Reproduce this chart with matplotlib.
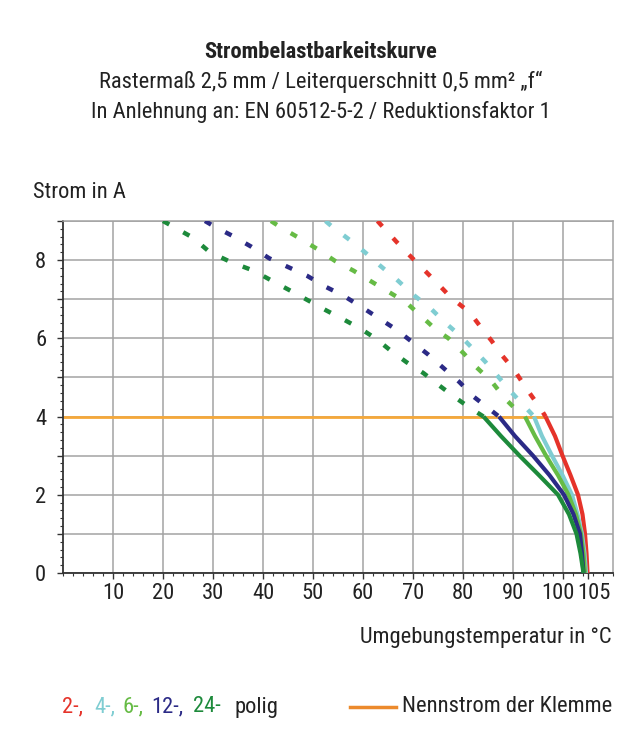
import matplotlib
matplotlib.use("Agg")
import matplotlib.pyplot as plt
import matplotlib.ticker as ticker
import matplotlib.transforms as mtransforms
from matplotlib import font_manager
import numpy as np

# Kurvendaten (Temperatur in °C, Strom in A)
red_t = [62.9, 64.1, 66.9, 69.4, 71.9, 74.4, 77.7, 81.3, 83.6, 85.7, 87.7, 90.2, 92.7, 95.4,
         96.5, 98.4, 99.9, 101.5, 103.0, 103.9, 104.4, 104.7, 104.9]
red_i = [9.0, 8.83, 8.44, 8.11, 7.79, 7.47, 7.03, 6.67, 6.28, 5.94, 5.58, 5.20, 4.71, 4.23,
         4.0, 3.5, 3.0, 2.5, 2.0, 1.5, 1.0, 0.5, 0.0]

cyan_t = [52.5, 53.7, 57.4, 60.4, 63.4, 66.6, 70.1, 73.4, 76.7, 79.4, 81.7, 84.4, 87.1, 89.7, 92.1,
          94.2, 95.8, 97.8, 99.9, 101.8, 102.9, 103.8, 104.3, 104.6]
cyan_i = [9.0, 8.87, 8.51, 8.20, 7.86, 7.52, 7.11, 6.78, 6.37, 6.07, 5.77, 5.41, 5.01, 4.62, 4.29,
          4.0, 3.5, 3.0, 2.5, 2.0, 1.5, 1.0, 0.5, 0.0]

lgreen_t = [41.6, 43.4, 47.3, 50.9, 54.4, 58.1, 61.7, 65.1, 68.6, 71.7, 74.7, 77.1, 80.1, 82.7, 85.7,
            88.4, 90.6, 92.4, 94.4, 96.6, 99.0, 101.1, 102.6, 103.6, 104.1, 104.4]
lgreen_i = [9.0, 8.85, 8.56, 8.28, 7.98, 7.73, 7.45, 7.19, 6.92, 6.56, 6.21, 6.00, 5.62, 5.26, 4.90,
            4.46, 4.18, 4.0, 3.5, 3.0, 2.5, 2.0, 1.5, 1.0, 0.5, 0.0]

blue_t = [28.4, 30.4, 33.9, 37.7, 41.2, 44.9, 48.8, 52.5, 56.1, 59.6, 63.1, 66.7, 70.1, 73.1, 76.1,
          79.3, 82.2, 84.9, 87.2, 90.4, 94.0, 97.3, 100.2, 102.1, 103.4, 103.8, 104.1]
blue_i = [9.0, 8.85, 8.62, 8.34, 8.05, 7.83, 7.60, 7.32, 7.09, 6.81, 6.52, 6.22, 5.88, 5.58, 5.24,
          4.88, 4.50, 4.23, 4.0, 3.5, 3.0, 2.5, 2.0, 1.5, 1.0, 0.5, 0.0]

dgreen_t = [20.0, 21.7, 25.9, 29.3, 33.4, 38.1, 42.4, 45.9, 49.3, 52.7, 56.3, 59.6, 62.6, 65.5,
            68.7, 72.1, 75.3, 78.2, 81.3, 84.1, 87.6, 91.3, 95.2, 99.0, 101.2, 102.7, 103.5, 104.1]
dgreen_i = [9.0, 8.88, 8.58, 8.21, 7.96, 7.73, 7.43, 7.19, 6.95, 6.71, 6.47, 6.24, 5.99, 5.69,
            5.39, 5.11, 4.79, 4.51, 4.23, 4.0, 3.5, 3.0, 2.5, 2.0, 1.5, 1.0, 0.5, 0.0]

nenn_t = [0, 96.5]
nenn_i = [4.0, 4.0]

x_ticks = [10, 20, 30, 40, 50, 60, 70, 80, 90, 100, 105]
y_ticks = [0, 1, 2, 3, 4, 5, 6, 7, 8, 9]

series = [
    (red_t, red_i, "#e5332a", "2-,"),
    (cyan_t, cyan_i, "#7fcdd2", "4-,"),
    (lgreen_t, lgreen_i, "#66bb45", "6-,"),
    (blue_t, blue_i, "#2b2a86", "12-,"),
    (dgreen_t, dgreen_i, "#1d8a3b", "24-"),
]
legend_x = [62, 94, 122, 151, 193]

names = {f.name for f in font_manager.fontManager.ttflist}
font = "DejaVu Sans"
for cand in ["Roboto Condensed", "Barlow Semi Condensed", "Asap Condensed", "Barlow Condensed"]:
    if cand in names:
        font = cand
        break
plt.rcParams["font.family"] = [font, "DejaVu Sans"]
fs = 16.2
plt.rcParams["font.size"] = fs
textcol = "#222222"
gridcol = "#a3a3a3"

fig = plt.figure(figsize=(6.42, 7.54), dpi=100)
ax = fig.add_axes([63 / 642, 1 - 573 / 754, 550 / 642, 352 / 754])

ax.plot(nenn_t, nenn_i, color="#f5a83a", lw=2.0, zorder=2, solid_capstyle="butt")

for t, i, col, lab in series:
    t = np.array(t)
    i = np.array(i)
    up = i >= 4.0
    lo = i <= 4.0
    ax.plot(t[up], i[up], color=col, lw=3.2, linestyle=(0, (1.6, 3.6)), zorder=3)
    ax.plot(t[lo], i[lo], color=col, lw=3.0, zorder=4, solid_capstyle="butt",
            solid_joinstyle="round", clip_on=False)

ax.set_xlim(0, 110)
ax.set_ylim(0, 9)

# Gitter
ax.xaxis.set_major_locator(ticker.FixedLocator(x_ticks))
ax.xaxis.set_minor_locator(ticker.MultipleLocator(2))
ax.yaxis.set_major_locator(ticker.FixedLocator(y_ticks))
ax.yaxis.set_minor_locator(ticker.MultipleLocator(0.2))
ax.yaxis.set_major_formatter(ticker.FuncFormatter(lambda v, pos: "%d" % v if int(v) % 2 == 0 else ""))
ax.grid(True, which="major", color=gridcol, lw=1.1, zorder=0)
ax.set_axisbelow(True)
for gl, v in zip(ax.get_xgridlines(), x_ticks):
    if v == 105:
        gl.set_visible(False)

ax.tick_params(axis="both", which="major", length=4, width=1.0, color="#333333",
               labelsize=fs, labelcolor=textcol)
ax.tick_params(axis="both", which="minor", length=2.5, width=0.8, color="#333333")
ax.tick_params(axis="x", pad=3)
ax.tick_params(axis="y", pad=8)

# 100 und 105 etwas auseinanderruecken
for lbl, v in zip(ax.get_xticklabels(), x_ticks):
    if v == 100:
        lbl.set_transform(lbl.get_transform() + mtransforms.ScaledTranslation(-5 / 100, 0, fig.dpi_scale_trans))
    if v == 105:
        lbl.set_transform(lbl.get_transform() + mtransforms.ScaledTranslation(6 / 100, 0, fig.dpi_scale_trans))

for s in ["top", "right"]:
    ax.spines[s].set_color(gridcol)
    ax.spines[s].set_linewidth(1.1)
for s in ["left", "bottom"]:
    ax.spines[s].set_color("#333333")
    ax.spines[s].set_linewidth(1.3)

# Titel
fig.text(0.5, 1 - 52 / 754, "Strombelastbarkeitskurve", ha="center", va="center",
         fontsize=fs, fontweight="bold", color=textcol)
fig.text(0.5, 1 - 82 / 754, "Rastermaß 2,5 mm / Leiterquerschnitt 0,5 mm² „f“", ha="center",
         va="center", fontsize=fs, color=textcol)
fig.text(0.5, 1 - 112 / 754, "In Anlehnung an: EN 60512-5-2 / Reduktionsfaktor 1", ha="center",
         va="center", fontsize=fs, color=textcol)

fig.text(33 / 642, 1 - 192 / 754, "Strom in A", ha="left", va="center", fontsize=fs, color=textcol)
fig.text(612 / 642, 1 - 637 / 754, "Umgebungstemperatur in °C", ha="right", va="center",
         fontsize=fs, color=textcol)

# Legende
y = 1 - 707 / 754
for (t, i, col, lab), lx in zip(series, legend_x):
    fig.text(lx / 642, y, lab, ha="left", va="center", fontsize=fs, color=col)
fig.text(234 / 642, y, "polig", ha="left", va="center", fontsize=fs, color=textcol)

fig.add_artist(plt.Line2D([350 / 642, 396 / 642], [y, y], color="#ec8a2c", lw=2.5))
fig.text(402 / 642, y, "Nennstrom der Klemme", ha="left", va="center", fontsize=fs, color=textcol)

fig.savefig("out.png", dpi=100)
